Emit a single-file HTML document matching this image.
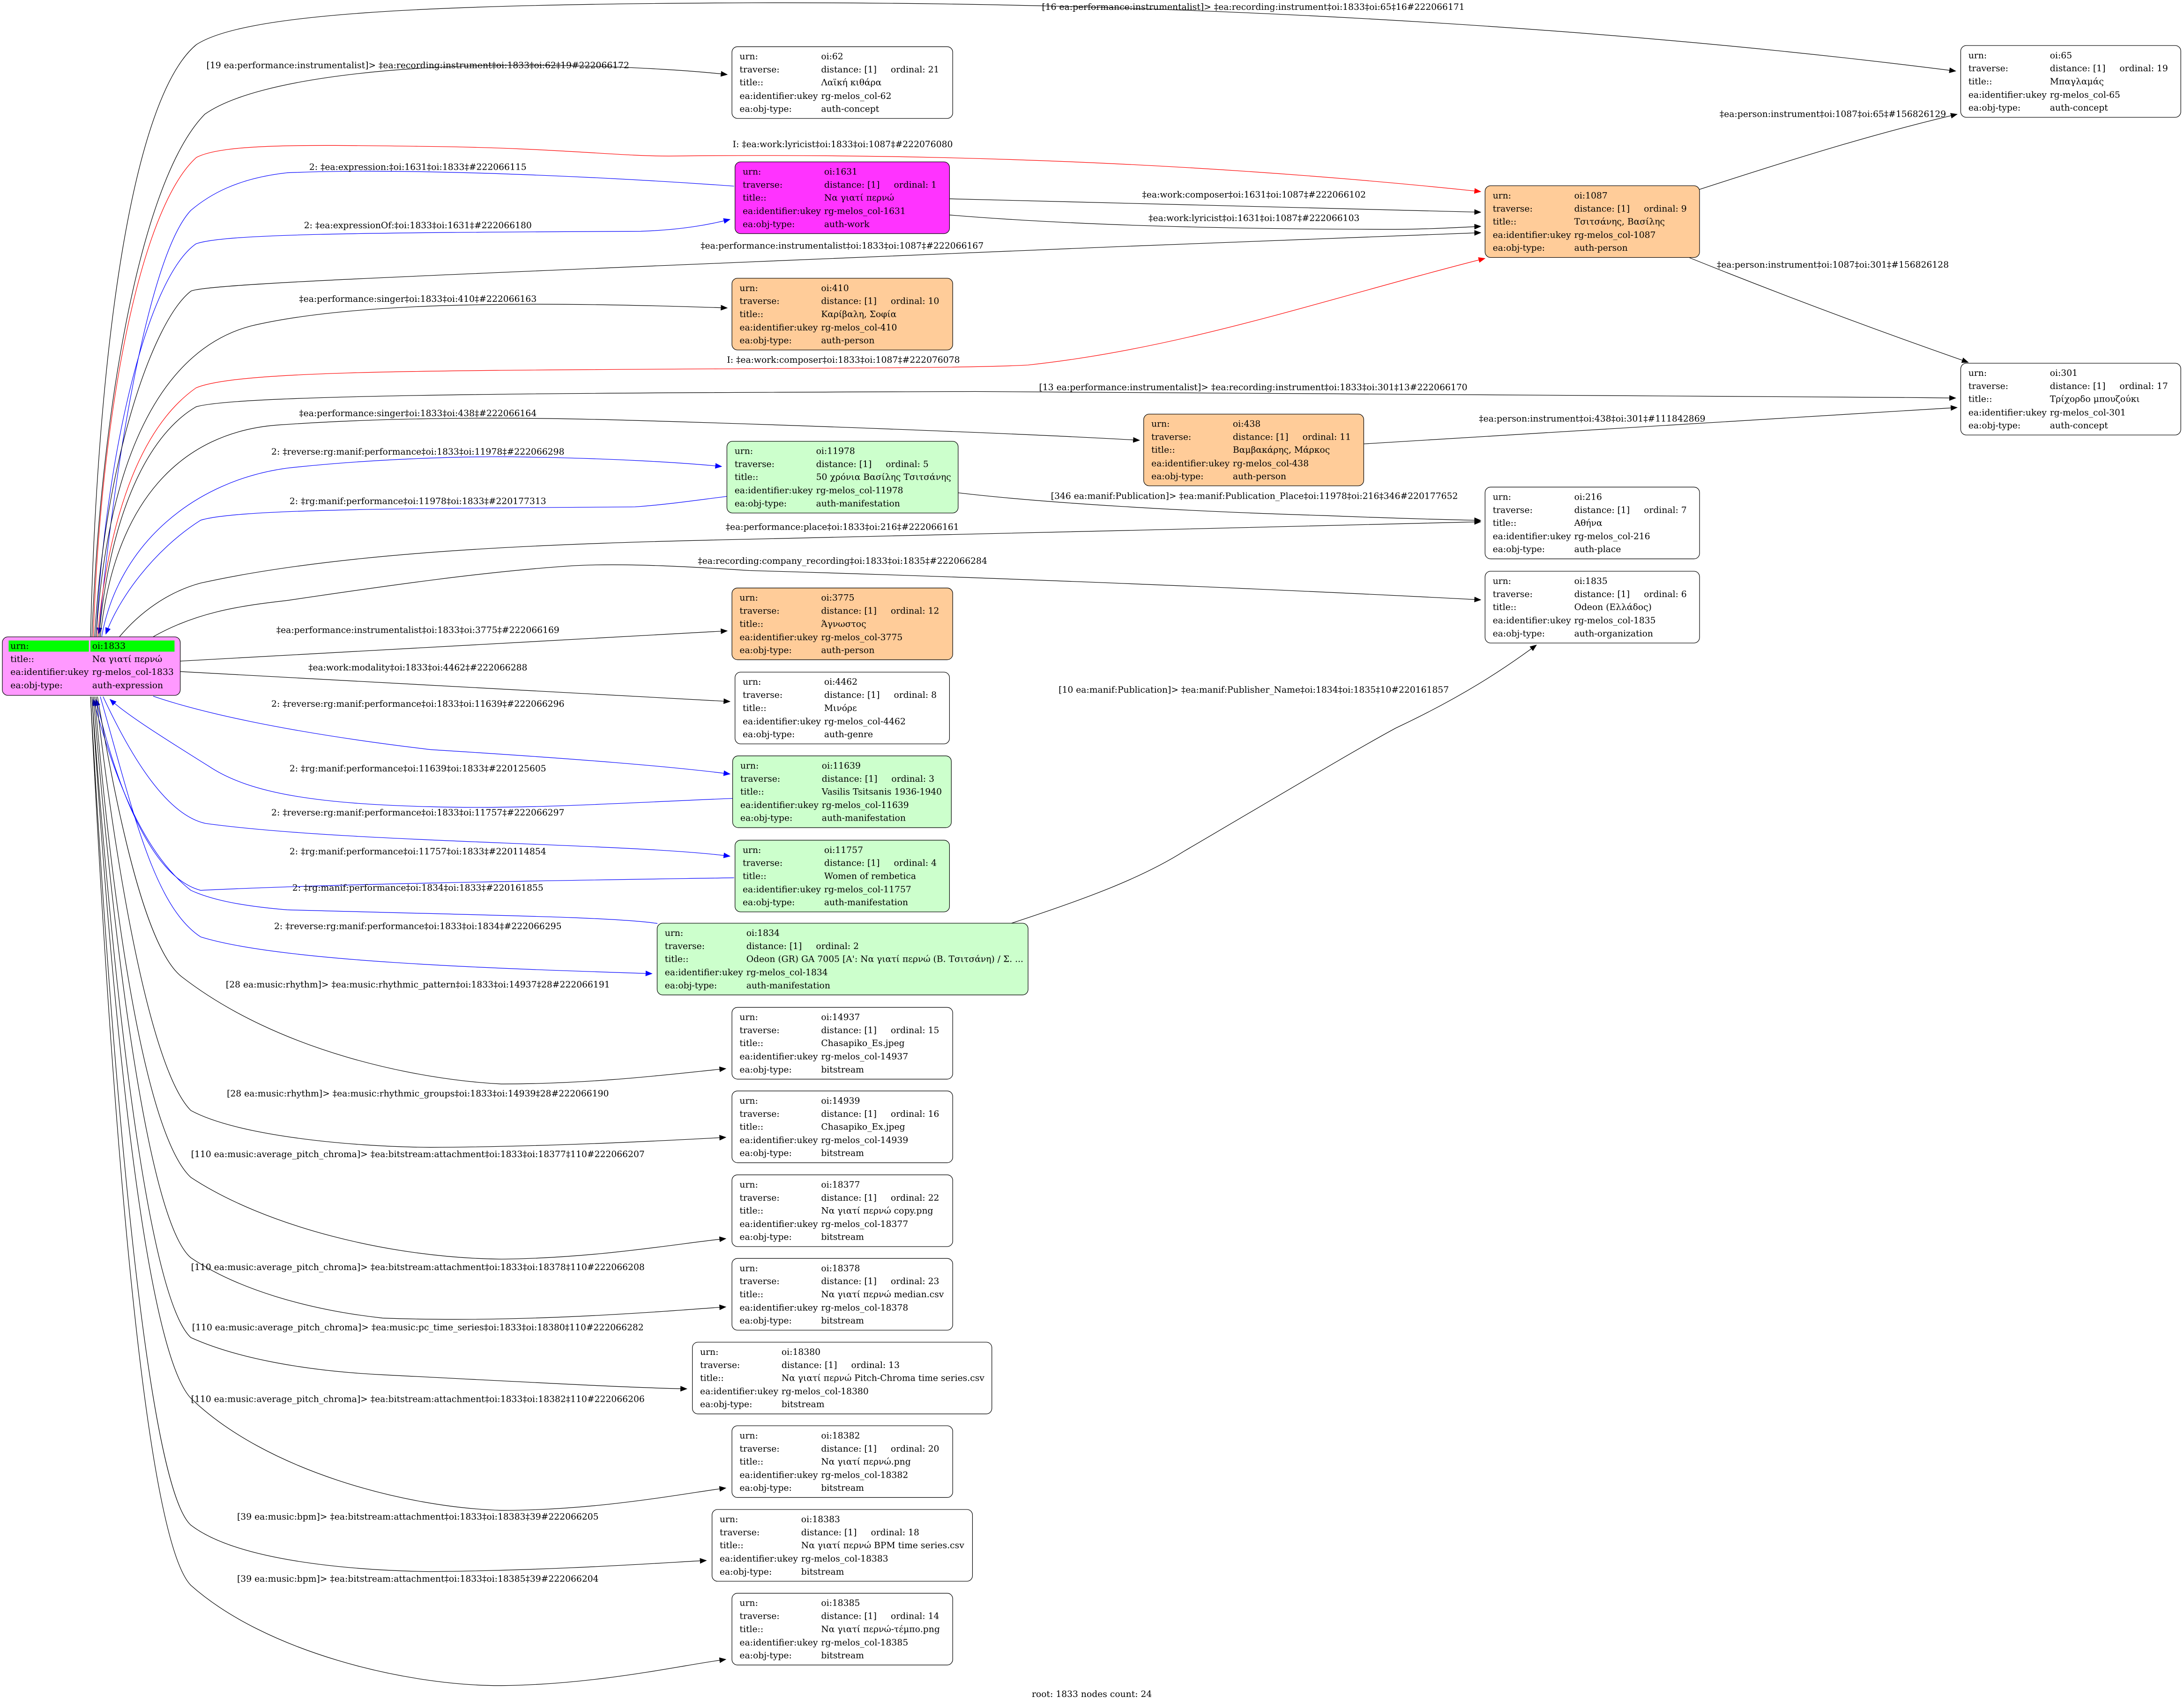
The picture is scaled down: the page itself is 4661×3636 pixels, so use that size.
<!DOCTYPE html>
<html><head><meta charset="utf-8"><style>
html,body{margin:0;padding:0;background:#fff;}
svg{display:block;}
text{font-family:"DejaVu Serif","Liberation Serif",serif;font-size:6.3px;fill:#000;}
.e{fill:none;stroke:#000;stroke-width:0.4;}
.b{stroke:#0000ff;}
.r{stroke:#ff0000;}
.n{stroke:#000;stroke-width:0.4;}
</style></head><body>
<svg xmlns="http://www.w3.org/2000/svg" width="4661" height="3636" viewBox="0 0 1568 1223" preserveAspectRatio="none">
<defs>
<marker id="ak" markerUnits="userSpaceOnUse" markerWidth="5" markerHeight="4" refX="4.5" refY="2" orient="auto"><path d="M0,0 L5,2 L0,4 z" fill="#000"/></marker>
<marker id="ab" markerUnits="userSpaceOnUse" markerWidth="5" markerHeight="4" refX="4.5" refY="2" orient="auto"><path d="M0,0 L5,2 L0,4 z" fill="#0000ff"/></marker>
<marker id="ar" markerUnits="userSpaceOnUse" markerWidth="5" markerHeight="4" refX="4.5" refY="2" orient="auto"><path d="M0,0 L5,2 L0,4 z" fill="#ff0000"/></marker>
</defs>
<rect width="1568" height="1223" fill="#fff"/>

<!-- edges -->
<g>
<path class="e" marker-end="url(#ak)" d="M65,457 C70,250 95,70 141,32 C175,10 300,3 540,2 C900,1 1200,25 1404,51"/>
<path class="e" marker-end="url(#ak)" d="M66,457 C72,300 100,130 147,82 C185,55 300,45 400,47 C460,48 500,51 522,53.5"/>
<path class="e r" marker-end="url(#ar)" d="M67,457 C72,300 100,150 141,113 C160,103 220,104 300,105 C400,106 440,112 480,112 C650,110 850,115 1063,137.5"/>
<path class="e b" marker-end="url(#ab)" d="M527,133.6 C450,128 300,120 206,124 C170,128 150,140 137,151 C105,185 80,350 71,455"/>
<path class="e b" marker-end="url(#ab)" d="M69,457 C75,330 105,200 140.7,175 C160,168 250,167 460,166 C490,165 510,161 524,157.5"/>
<path class="e" marker-end="url(#ak)" d="M68,457 C75,330 110,230 137,209 C145,204 300,198 538,188 C700,182 900,172 1063,167"/>
<path class="e" marker-end="url(#ak)" d="M69,457 C78,320 120,250 180,234 C260,215 400,217 522,221"/>
<path class="e r" marker-end="url(#ar)" d="M70,457 C80,350 110,300 140.7,278.4 C170,266 300,266 538,264.6 C620,264 700,264 738,262 C850,250 950,215 1066,185.5"/>
<path class="e" marker-end="url(#ak)" d="M71,457 C80,360 110,310 140.7,292 C170,283 400,282 700,281 C1000,281 1200,283 1404,285.7"/>
<path class="e" marker-end="url(#ak)" d="M72,457 C82,360 130,310 200,305 C300,298 400,300 464,302 C600,306 750,312 818,316"/>
<path class="e b" marker-end="url(#ab)" d="M73,457 C85,390 140,345 206,336 C260,330 330,327 377,328 C440,329 490,332 518,334.8"/>
<path class="e b" marker-end="url(#ab)" d="M521.7,356.3 C500,359 480,362 456,363.8 C300,365 170,365 144,373.4 C110,395 85,430 76,455"/>
<path class="e" marker-end="url(#ak)" d="M85.8,457 C100,440 120,425 144,418.5 C250,395 400,390 538,387 C700,384 900,378 1063,374.5"/>
<path class="e" marker-end="url(#ak)" d="M110,457 C140,440 170,435 206,431 C280,420 350,410 412,406 C450,404 500,407 538,409.5 C700,414 900,422 1063,430.5"/>
<path class="e" marker-end="url(#ak)" d="M129.4,474.5 L522,452.8"/>
<path class="e" marker-end="url(#ak)" d="M129.4,482 L524,503.5"/>
<path class="e b" marker-end="url(#ab)" d="M110,499.7 C140,510 200,525 309,538 C420,545 480,550 524,555.5"/>
<path class="e b" marker-end="url(#ab)" d="M527,573 C450,576 380,581 309,579 C230,577 180,570 150,550 C110,525 90,512 79,502"/>
<path class="e b" marker-end="url(#ab)" d="M74,500 C95,545 120,585 147.6,591 C250,605 450,605 524,614.5"/>
<path class="e b" marker-end="url(#ab)" d="M527,630 C400,632 250,634 144,639 C110,630 85,570 69,502"/>
<path class="e b" marker-end="url(#ab)" d="M472,662.8 C440,658 350,657 206,653 C170,650 150,645 137,639 C100,610 80,550 67,502"/>
<path class="e b" marker-end="url(#ab)" d="M72,500 C95,580 110,650 144,672.4 C200,690 350,695 468,698.8"/>
<path class="e" marker-end="url(#ak)" d="M70,500 C90,620 110,685 130.4,701 C200,755 300,775 360,778 C430,778 490,770 521,767"/>
<path class="e" marker-end="url(#ak)" d="M69,500 C85,640 110,770 137,797 C170,815 250,823 309,823.5 C400,823 490,818 521,816.3"/>
<path class="e" marker-end="url(#ak)" d="M68,500 C85,700 110,820 137,845 C190,880 280,903 360,903.7 C430,903 490,892 521,889"/>
<path class="e" marker-end="url(#ak)" d="M67,500 C85,720 110,880 137,902.7 C170,925 220,940 274.6,946 C380,950 490,940 521,938"/>
<path class="e" marker-end="url(#ak)" d="M66,500 C85,760 110,935 137,960 C170,975 220,984 274.6,986.7 C380,992 450,996 493,996.8"/>
<path class="e" marker-end="url(#ak)" d="M66,500 C85,800 110,975 137,1003.5 C190,1055 290,1082 360,1084 C430,1084 490,1072 521,1068"/>
<path class="e" marker-end="url(#ak)" d="M65,500 C85,850 110,1070 137,1094.6 C170,1120 250,1127 309,1128 C400,1127 470,1122 507,1120"/>
<path class="e" marker-end="url(#ak)" d="M65,500 C85,900 110,1110 137,1137.8 C190,1185 290,1210 360,1209.8 C430,1209 490,1195 521,1191"/>
<path class="e" marker-end="url(#ak)" d="M681.8,142.7 C800,146 950,149 1063,152.3"/>
<path class="e" marker-end="url(#ak)" d="M681.8,154.3 C750,160 850,164.5 1002,164.6 C1030,164.5 1050,163 1063,162.5"/>
<path class="e" marker-end="url(#ak)" d="M1220,136 C1300,110 1350,95 1405,82"/>
<path class="e" marker-end="url(#ak)" d="M1213,185 C1300,220 1370,245 1413,260"/>
<path class="e" marker-end="url(#ak)" d="M979,318.6 L1405,292.5"/>
<path class="e" marker-end="url(#ak)" d="M688,353.7 C750,361 850,367 950,370 C1000,372 1040,373 1063,373.5"/>
<path class="e" marker-end="url(#ak)" d="M725,663 C780,645 820,630 850,611 C920,570 970,540 1002,522.6 C1050,500 1080,480 1103,463"/>
</g>

<!-- edge labels -->
<g>
<text x="748" y="7">[16 ea:performance:instrumentalist]&gt; ‡ea:recording:instrument‡oi:1833‡oi:65‡16#222066171</text>
<text x="300" y="49" text-anchor="middle">[19 ea:performance:instrumentalist]&gt; ‡ea:recording:instrument‡oi:1833‡oi:62‡19#222066172</text>
<text x="526" y="105.6">I: ‡ea:work:lyricist‡oi:1833‡oi:1087‡#222076080</text>
<text x="300" y="122" text-anchor="middle">2: ‡ea:expression:‡oi:1631‡oi:1833‡#222066115</text>
<text x="300" y="163.8" text-anchor="middle">2: ‡ea:expressionOf:‡oi:1833‡oi:1631‡#222066180</text>
<text x="820" y="141.8">‡ea:work:composer‡oi:1631‡oi:1087‡#222066102</text>
<text x="824.6" y="158.6">‡ea:work:lyricist‡oi:1631‡oi:1087‡#222066103</text>
<text x="503" y="178.5">‡ea:performance:instrumentalist‡oi:1833‡oi:1087‡#222066167</text>
<text x="1234.6" y="84">‡ea:person:instrument‡oi:1087‡oi:65‡#156826129</text>
<text x="1232.6" y="192">‡ea:person:instrument‡oi:1087‡oi:301‡#156826128</text>
<text x="300" y="216.6" text-anchor="middle">‡ea:performance:singer‡oi:1833‡oi:410‡#222066163</text>
<text x="521.9" y="260.4">I: ‡ea:work:composer‡oi:1833‡oi:1087‡#222076078</text>
<text x="746" y="280">[13 ea:performance:instrumentalist]&gt; ‡ea:recording:instrument‡oi:1833‡oi:301‡13#222066170</text>
<text x="300" y="298.7" text-anchor="middle">‡ea:performance:singer‡oi:1833‡oi:438‡#222066164</text>
<text x="1061.8" y="302.5">‡ea:person:instrument‡oi:438‡oi:301‡#111842869</text>
<text x="300" y="326.2" text-anchor="middle">2: ‡reverse:rg:manif:performance‡oi:1833‡oi:11978‡#222066298</text>
<text x="300" y="361.8" text-anchor="middle">2: ‡rg:manif:performance‡oi:11978‡oi:1833‡#220177313</text>
<text x="754.5" y="358">[346 ea:manif:Publication]&gt; ‡ea:manif:Publication_Place‡oi:11978‡oi:216‡346#220177652</text>
<text x="521" y="380.2">‡ea:performance:place‡oi:1833‡oi:216‡#222066161</text>
<text x="501" y="404.7">‡ea:recording:company_recording‡oi:1833‡oi:1835‡#222066284</text>
<text x="300" y="454.2" text-anchor="middle">‡ea:performance:instrumentalist‡oi:1833‡oi:3775‡#222066169</text>
<text x="300" y="481.2" text-anchor="middle">‡ea:work:modality‡oi:1833‡oi:4462‡#222066288</text>
<text x="760" y="497.2">[10 ea:manif:Publication]&gt; ‡ea:manif:Publisher_Name‡oi:1834‡oi:1835‡10#220161857</text>
<text x="300" y="507.2" text-anchor="middle">2: ‡reverse:rg:manif:performance‡oi:1833‡oi:11639‡#222066296</text>
<text x="300" y="553.7" text-anchor="middle">2: ‡rg:manif:performance‡oi:11639‡oi:1833‡#220125605</text>
<text x="300" y="585.2" text-anchor="middle">2: ‡reverse:rg:manif:performance‡oi:1833‡oi:11757‡#222066297</text>
<text x="300" y="613.2" text-anchor="middle">2: ‡rg:manif:performance‡oi:11757‡oi:1833‡#220114854</text>
<text x="300" y="639.2" text-anchor="middle">2: ‡rg:manif:performance‡oi:1834‡oi:1833‡#220161855</text>
<text x="300" y="666.9" text-anchor="middle">2: ‡reverse:rg:manif:performance‡oi:1833‡oi:1834‡#222066295</text>
<text x="300" y="708.7" text-anchor="middle">[28 ea:music:rhythm]&gt; ‡ea:music:rhythmic_pattern‡oi:1833‡oi:14937‡28#222066191</text>
<text x="300" y="786.9" text-anchor="middle">[28 ea:music:rhythm]&gt; ‡ea:music:rhythmic_groups‡oi:1833‡oi:14939‡28#222066190</text>
<text x="300" y="830.5" text-anchor="middle">[110 ea:music:average_pitch_chroma]&gt; ‡ea:bitstream:attachment‡oi:1833‡oi:18377‡110#222066207</text>
<text x="300" y="911.6" text-anchor="middle">[110 ea:music:average_pitch_chroma]&gt; ‡ea:bitstream:attachment‡oi:1833‡oi:18378‡110#222066208</text>
<text x="300" y="954.8" text-anchor="middle">[110 ea:music:average_pitch_chroma]&gt; ‡ea:music:pc_time_series‡oi:1833‡oi:18380‡110#222066282</text>
<text x="300" y="1006.2" text-anchor="middle">[110 ea:music:average_pitch_chroma]&gt; ‡ea:bitstream:attachment‡oi:1833‡oi:18382‡110#222066206</text>
<text x="300" y="1090.6" text-anchor="middle">[39 ea:music:bpm]&gt; ‡ea:bitstream:attachment‡oi:1833‡oi:18383‡39#222066205</text>
<text x="300" y="1135.2" text-anchor="middle">[39 ea:music:bpm]&gt; ‡ea:bitstream:attachment‡oi:1833‡oi:18385‡39#222066204</text>
<text x="740.8" y="1218">root: 1833 nodes count: 24</text>
</g>

<!-- root node -->
<g>
<rect class="n" x="1.7" y="457.1" width="127.7" height="42" rx="4" fill="#ff99ff"/>
<rect x="6.2" y="459.7" width="57.6" height="8" fill="#00ff00"/>
<rect x="64.9" y="459.7" width="60.4" height="8" fill="#00ff00"/>
<text x="7.5" y="465.7">urn:</text><text x="66.2" y="465.7">oi:1833</text>
<text x="7.5" y="475.1">title::</text><text x="66.2" y="475.1">Να γιατί περνώ</text>
<text x="7.5" y="484.4">ea:identifier:ukey</text><text x="66.2" y="484.4">rg-melos_col-1833</text>
<text x="7.5" y="494">ea:obj-type:</text><text x="66.2" y="494">auth-expression</text>
</g>

<!-- nodes -->
<g id="nodes"></g>
<g>
<!-- oi:62 -->
<rect class="n" x="525.5" y="33.5" width="158.5" height="51.5" rx="4" fill="#fff"/>
<text x="531" y="42.6">urn:</text><text x="589.5" y="42.6">oi:62</text>
<text x="531" y="52">traverse:</text><text x="589.5" y="52">distance: [1]</text><text x="639.5" y="52">ordinal: 21</text>
<text x="531" y="61.3">title::</text><text x="589.5" y="61.3">Λαϊκή κιθάρα</text>
<text x="531" y="70.9">ea:identifier:ukey</text><text x="589.5" y="70.9">rg-melos_col-62</text>
<text x="531" y="80.2">ea:obj-type:</text><text x="589.5" y="80.2">auth-concept</text>

<!-- oi:65 -->
<rect class="n" x="1407.7" y="32.7" width="158" height="51.5" rx="4" fill="#fff"/>
<text x="1413.2" y="41.8">urn:</text><text x="1471.7" y="41.8">oi:65</text>
<text x="1413.2" y="51.2">traverse:</text><text x="1471.7" y="51.2">distance: [1]</text><text x="1521.7" y="51.2">ordinal: 19</text>
<text x="1413.2" y="60.5">title::</text><text x="1471.7" y="60.5">Μπαγλαμάς</text>
<text x="1413.2" y="70.1">ea:identifier:ukey</text><text x="1471.7" y="70.1">rg-melos_col-65</text>
<text x="1413.2" y="79.4">ea:obj-type:</text><text x="1471.7" y="79.4">auth-concept</text>

<!-- oi:1631 -->
<rect class="n" x="527.7" y="116.2" width="154" height="51.5" rx="4" fill="#ff33ff"/>
<text x="533.2" y="125.3">urn:</text><text x="591.7" y="125.3">oi:1631</text>
<text x="533.2" y="134.7">traverse:</text><text x="591.7" y="134.7">distance: [1]</text><text x="641.7" y="134.7">ordinal: 1</text>
<text x="533.2" y="144">title::</text><text x="591.7" y="144">Να γιατί περνώ</text>
<text x="533.2" y="153.6">ea:identifier:ukey</text><text x="591.7" y="153.6">rg-melos_col-1631</text>
<text x="533.2" y="162.9">ea:obj-type:</text><text x="591.7" y="162.9">auth-work</text>

<!-- oi:1087 -->
<rect class="n" x="1066.2" y="133.3" width="154" height="51.5" rx="4" fill="#ffcc99"/>
<text x="1071.7" y="142.4">urn:</text><text x="1130.2" y="142.4">oi:1087</text>
<text x="1071.7" y="151.8">traverse:</text><text x="1130.2" y="151.8">distance: [1]</text><text x="1180.2" y="151.8">ordinal: 9</text>
<text x="1071.7" y="161.1">title::</text><text x="1130.2" y="161.1">Τσιτσάνης, Βασίλης</text>
<text x="1071.7" y="170.7">ea:identifier:ukey</text><text x="1130.2" y="170.7">rg-melos_col-1087</text>
<text x="1071.7" y="180">ea:obj-type:</text><text x="1130.2" y="180">auth-person</text>

<!-- oi:410 -->
<rect class="n" x="525.5" y="199.7" width="158.5" height="51.5" rx="4" fill="#ffcc99"/>
<text x="531" y="208.8">urn:</text><text x="589.5" y="208.8">oi:410</text>
<text x="531" y="218.2">traverse:</text><text x="589.5" y="218.2">distance: [1]</text><text x="639.5" y="218.2">ordinal: 10</text>
<text x="531" y="227.5">title::</text><text x="589.5" y="227.5">Καρίβαλη, Σοφία</text>
<text x="531" y="237.1">ea:identifier:ukey</text><text x="589.5" y="237.1">rg-melos_col-410</text>
<text x="531" y="246.4">ea:obj-type:</text><text x="589.5" y="246.4">auth-person</text>

<!-- oi:301 -->
<rect class="n" x="1407.7" y="260.7" width="158" height="51.5" rx="4" fill="#fff"/>
<text x="1413.2" y="269.8">urn:</text><text x="1471.7" y="269.8">oi:301</text>
<text x="1413.2" y="279.2">traverse:</text><text x="1471.7" y="279.2">distance: [1]</text><text x="1521.7" y="279.2">ordinal: 17</text>
<text x="1413.2" y="288.5">title::</text><text x="1471.7" y="288.5">Τρίχορδο μπουζούκι</text>
<text x="1413.2" y="298.1">ea:identifier:ukey</text><text x="1471.7" y="298.1">rg-melos_col-301</text>
<text x="1413.2" y="307.4">ea:obj-type:</text><text x="1471.7" y="307.4">auth-concept</text>

<!-- oi:438 -->
<rect class="n" x="821.1" y="297.2" width="158" height="51.5" rx="4" fill="#ffcc99"/>
<text x="826.6" y="306.3">urn:</text><text x="885.1" y="306.3">oi:438</text>
<text x="826.6" y="315.7">traverse:</text><text x="885.1" y="315.7">distance: [1]</text><text x="935.1" y="315.7">ordinal: 11</text>
<text x="826.6" y="325">title::</text><text x="885.1" y="325">Βαμβακάρης, Μάρκος</text>
<text x="826.6" y="334.6">ea:identifier:ukey</text><text x="885.1" y="334.6">rg-melos_col-438</text>
<text x="826.6" y="343.9">ea:obj-type:</text><text x="885.1" y="343.9">auth-person</text>

<!-- oi:11978 -->
<rect class="n" x="521.9" y="316.7" width="166" height="51.5" rx="4" fill="#ccffcc"/>
<text x="527.4" y="325.8">urn:</text><text x="585.9" y="325.8">oi:11978</text>
<text x="527.4" y="335.2">traverse:</text><text x="585.9" y="335.2">distance: [1]</text><text x="635.9" y="335.2">ordinal: 5</text>
<text x="527.4" y="344.5">title::</text><text x="585.9" y="344.5">50 χρόνια Βασίλης Τσιτσάνης</text>
<text x="527.4" y="354.1">ea:identifier:ukey</text><text x="585.9" y="354.1">rg-melos_col-11978</text>
<text x="527.4" y="363.4">ea:obj-type:</text><text x="585.9" y="363.4">auth-manifestation</text>

<!-- oi:216 -->
<rect class="n" x="1066.2" y="349.6" width="154" height="51.5" rx="4" fill="#fff"/>
<text x="1071.7" y="358.7">urn:</text><text x="1130.2" y="358.7">oi:216</text>
<text x="1071.7" y="368.1">traverse:</text><text x="1130.2" y="368.1">distance: [1]</text><text x="1180.2" y="368.1">ordinal: 7</text>
<text x="1071.7" y="377.4">title::</text><text x="1130.2" y="377.4">Αθήνα</text>
<text x="1071.7" y="387">ea:identifier:ukey</text><text x="1130.2" y="387">rg-melos_col-216</text>
<text x="1071.7" y="396.3">ea:obj-type:</text><text x="1130.2" y="396.3">auth-place</text>

<!-- oi:1835 -->
<rect class="n" x="1066.2" y="410" width="154" height="51.5" rx="4" fill="#fff"/>
<text x="1071.7" y="419.1">urn:</text><text x="1130.2" y="419.1">oi:1835</text>
<text x="1071.7" y="428.5">traverse:</text><text x="1130.2" y="428.5">distance: [1]</text><text x="1180.2" y="428.5">ordinal: 6</text>
<text x="1071.7" y="437.8">title::</text><text x="1130.2" y="437.8">Odeon (Ελλάδος)</text>
<text x="1071.7" y="447.4">ea:identifier:ukey</text><text x="1130.2" y="447.4">rg-melos_col-1835</text>
<text x="1071.7" y="456.7">ea:obj-type:</text><text x="1130.2" y="456.7">auth-organization</text>

<!-- oi:3775 -->
<rect class="n" x="525.5" y="422" width="158.5" height="51.5" rx="4" fill="#ffcc99"/>
<text x="531" y="431.1">urn:</text><text x="589.5" y="431.1">oi:3775</text>
<text x="531" y="440.5">traverse:</text><text x="589.5" y="440.5">distance: [1]</text><text x="639.5" y="440.5">ordinal: 12</text>
<text x="531" y="449.8">title::</text><text x="589.5" y="449.8">Άγνωστος</text>
<text x="531" y="459.4">ea:identifier:ukey</text><text x="589.5" y="459.4">rg-melos_col-3775</text>
<text x="531" y="468.7">ea:obj-type:</text><text x="589.5" y="468.7">auth-person</text>

<!-- oi:4462 -->
<rect class="n" x="527.7" y="482.4" width="154" height="51.5" rx="4" fill="#fff"/>
<text x="533.2" y="491.5">urn:</text><text x="591.7" y="491.5">oi:4462</text>
<text x="533.2" y="500.9">traverse:</text><text x="591.7" y="500.9">distance: [1]</text><text x="641.7" y="500.9">ordinal: 8</text>
<text x="533.2" y="510.2">title::</text><text x="591.7" y="510.2">Μινόρε</text>
<text x="533.2" y="519.8">ea:identifier:ukey</text><text x="591.7" y="519.8">rg-melos_col-4462</text>
<text x="533.2" y="529.1">ea:obj-type:</text><text x="591.7" y="529.1">auth-genre</text>

<!-- oi:11639 -->
<rect class="n" x="526" y="542.5" width="157" height="51.5" rx="4" fill="#ccffcc"/>
<text x="531.5" y="551.6">urn:</text><text x="590" y="551.6">oi:11639</text>
<text x="531.5" y="561">traverse:</text><text x="590" y="561">distance: [1]</text><text x="640" y="561">ordinal: 3</text>
<text x="531.5" y="570.3">title::</text><text x="590" y="570.3">Vasilis Tsitsanis 1936-1940</text>
<text x="531.5" y="579.9">ea:identifier:ukey</text><text x="590" y="579.9">rg-melos_col-11639</text>
<text x="531.5" y="589.2">ea:obj-type:</text><text x="590" y="589.2">auth-manifestation</text>

<!-- oi:11757 -->
<rect class="n" x="527.7" y="603" width="154" height="51.5" rx="4" fill="#ccffcc"/>
<text x="533.2" y="612.1">urn:</text><text x="591.7" y="612.1">oi:11757</text>
<text x="533.2" y="621.5">traverse:</text><text x="591.7" y="621.5">distance: [1]</text><text x="641.7" y="621.5">ordinal: 4</text>
<text x="533.2" y="630.8">title::</text><text x="591.7" y="630.8">Women of rembetica</text>
<text x="533.2" y="640.4">ea:identifier:ukey</text><text x="591.7" y="640.4">rg-melos_col-11757</text>
<text x="533.2" y="649.7">ea:obj-type:</text><text x="591.7" y="649.7">auth-manifestation</text>

<!-- oi:1834 -->
<rect class="n" x="471.8" y="662.6" width="266.3" height="51.5" rx="4" fill="#ccffcc"/>
<text x="477.3" y="671.7">urn:</text><text x="535.8" y="671.7">oi:1834</text>
<text x="477.3" y="681.1">traverse:</text><text x="535.8" y="681.1">distance: [1]</text><text x="585.8" y="681.1">ordinal: 2</text>
<text x="477.3" y="690.4">title::</text><text x="535.8" y="690.4">Odeon (GR) GA 7005 [Α': Να γιατί περνώ (Β. Τσιτσάνη) / Σ. ...</text>
<text x="477.3" y="700">ea:identifier:ukey</text><text x="535.8" y="700">rg-melos_col-1834</text>
<text x="477.3" y="709.3">ea:obj-type:</text><text x="535.8" y="709.3">auth-manifestation</text>

<!-- oi:14937 -->
<rect class="n" x="525.5" y="723" width="158.5" height="51.5" rx="4" fill="#fff"/>
<text x="531" y="732.1">urn:</text><text x="589.5" y="732.1">oi:14937</text>
<text x="531" y="741.5">traverse:</text><text x="589.5" y="741.5">distance: [1]</text><text x="639.5" y="741.5">ordinal: 15</text>
<text x="531" y="750.8">title::</text><text x="589.5" y="750.8">Chasapiko_Es.jpeg</text>
<text x="531" y="760.4">ea:identifier:ukey</text><text x="589.5" y="760.4">rg-melos_col-14937</text>
<text x="531" y="769.7">ea:obj-type:</text><text x="589.5" y="769.7">bitstream</text>

<!-- oi:14939 -->
<rect class="n" x="525.5" y="783" width="158.5" height="51.5" rx="4" fill="#fff"/>
<text x="531" y="792.1">urn:</text><text x="589.5" y="792.1">oi:14939</text>
<text x="531" y="801.5">traverse:</text><text x="589.5" y="801.5">distance: [1]</text><text x="639.5" y="801.5">ordinal: 16</text>
<text x="531" y="810.8">title::</text><text x="589.5" y="810.8">Chasapiko_Ex.jpeg</text>
<text x="531" y="820.4">ea:identifier:ukey</text><text x="589.5" y="820.4">rg-melos_col-14939</text>
<text x="531" y="829.7">ea:obj-type:</text><text x="589.5" y="829.7">bitstream</text>

<!-- oi:18377 -->
<rect class="n" x="525.5" y="843.2" width="158.5" height="51.5" rx="4" fill="#fff"/>
<text x="531" y="852.3">urn:</text><text x="589.5" y="852.3">oi:18377</text>
<text x="531" y="861.7">traverse:</text><text x="589.5" y="861.7">distance: [1]</text><text x="639.5" y="861.7">ordinal: 22</text>
<text x="531" y="871">title::</text><text x="589.5" y="871">Να γιατί περνώ copy.png</text>
<text x="531" y="880.6">ea:identifier:ukey</text><text x="589.5" y="880.6">rg-melos_col-18377</text>
<text x="531" y="889.9">ea:obj-type:</text><text x="589.5" y="889.9">bitstream</text>

<!-- oi:18378 -->
<rect class="n" x="525.5" y="903.2" width="158.5" height="51.5" rx="4" fill="#fff"/>
<text x="531" y="912.3">urn:</text><text x="589.5" y="912.3">oi:18378</text>
<text x="531" y="921.7">traverse:</text><text x="589.5" y="921.7">distance: [1]</text><text x="639.5" y="921.7">ordinal: 23</text>
<text x="531" y="931">title::</text><text x="589.5" y="931">Να γιατί περνώ median.csv</text>
<text x="531" y="940.6">ea:identifier:ukey</text><text x="589.5" y="940.6">rg-melos_col-18378</text>
<text x="531" y="949.9">ea:obj-type:</text><text x="589.5" y="949.9">bitstream</text>

<!-- oi:18380 -->
<rect class="n" x="497.1" y="963.3" width="215" height="51.5" rx="4" fill="#fff"/>
<text x="502.6" y="972.4">urn:</text><text x="561.1" y="972.4">oi:18380</text>
<text x="502.6" y="981.8">traverse:</text><text x="561.1" y="981.8">distance: [1]</text><text x="611.1" y="981.8">ordinal: 13</text>
<text x="502.6" y="991.1">title::</text><text x="561.1" y="991.1">Να γιατί περνώ Pitch-Chroma time series.csv</text>
<text x="502.6" y="1000.7">ea:identifier:ukey</text><text x="561.1" y="1000.7">rg-melos_col-18380</text>
<text x="502.6" y="1010">ea:obj-type:</text><text x="561.1" y="1010">bitstream</text>

<!-- oi:18382 -->
<rect class="n" x="525.5" y="1023.3" width="158.5" height="51.5" rx="4" fill="#fff"/>
<text x="531" y="1032.4">urn:</text><text x="589.5" y="1032.4">oi:18382</text>
<text x="531" y="1041.8">traverse:</text><text x="589.5" y="1041.8">distance: [1]</text><text x="639.5" y="1041.8">ordinal: 20</text>
<text x="531" y="1051.1">title::</text><text x="589.5" y="1051.1">Να γιατί περνώ.png</text>
<text x="531" y="1060.7">ea:identifier:ukey</text><text x="589.5" y="1060.7">rg-melos_col-18382</text>
<text x="531" y="1070">ea:obj-type:</text><text x="589.5" y="1070">bitstream</text>

<!-- oi:18383 -->
<rect class="n" x="511.2" y="1083.4" width="187" height="51.5" rx="4" fill="#fff"/>
<text x="516.7" y="1092.5">urn:</text><text x="575.2" y="1092.5">oi:18383</text>
<text x="516.7" y="1101.9">traverse:</text><text x="575.2" y="1101.9">distance: [1]</text><text x="625.2" y="1101.9">ordinal: 18</text>
<text x="516.7" y="1111.2">title::</text><text x="575.2" y="1111.2">Να γιατί περνώ BPM time series.csv</text>
<text x="516.7" y="1120.8">ea:identifier:ukey</text><text x="575.2" y="1120.8">rg-melos_col-18383</text>
<text x="516.7" y="1130.1">ea:obj-type:</text><text x="575.2" y="1130.1">bitstream</text>

<!-- oi:18385 -->
<rect class="n" x="525.5" y="1143.5" width="158.5" height="51.5" rx="4" fill="#fff"/>
<text x="531" y="1152.6">urn:</text><text x="589.5" y="1152.6">oi:18385</text>
<text x="531" y="1162">traverse:</text><text x="589.5" y="1162">distance: [1]</text><text x="639.5" y="1162">ordinal: 14</text>
<text x="531" y="1171.3">title::</text><text x="589.5" y="1171.3">Να γιατί περνώ-τέμπο.png</text>
<text x="531" y="1180.9">ea:identifier:ukey</text><text x="589.5" y="1180.9">rg-melos_col-18385</text>
<text x="531" y="1190.2">ea:obj-type:</text><text x="589.5" y="1190.2">bitstream</text>
</g>
</svg>
</body></html>
